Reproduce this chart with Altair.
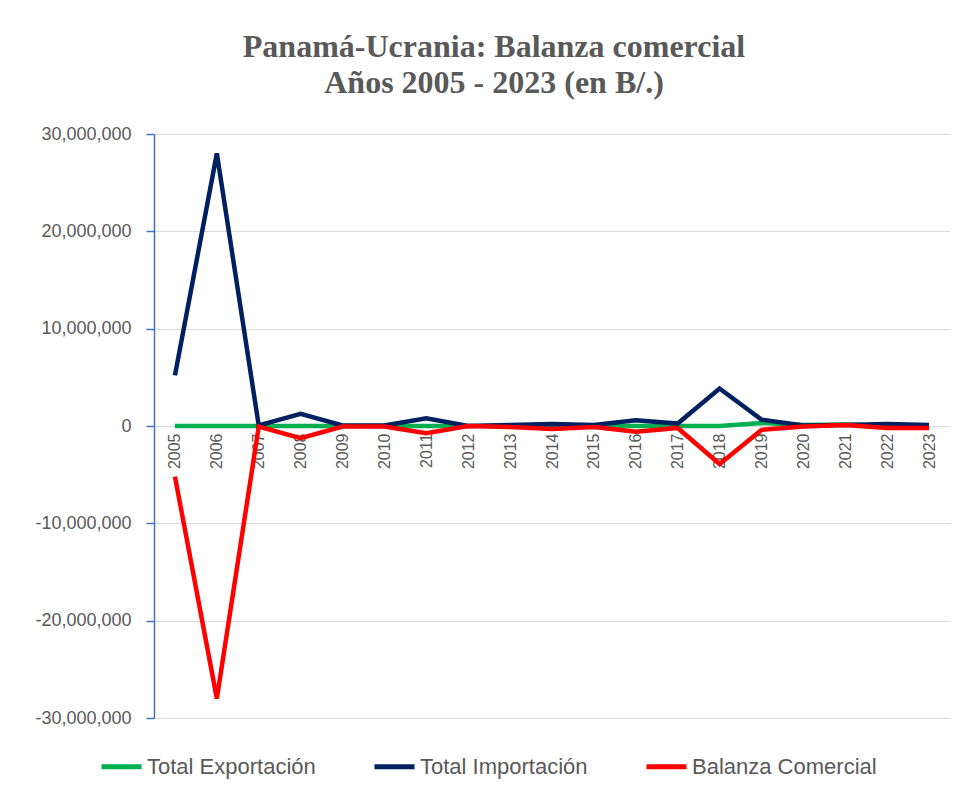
import altair as alt
import pandas as pd

years = [str(y) for y in range(2005, 2024)]
exportacion = [0, 0, 0, 0, 0, 0, 0, 0, 0, 0, 0, 0, 0, 0, 300000, 100000, 150000, 0, 0]
importacion = [5200000, 28000000, 50000, 1250000, 50000, 50000, 800000, 0, 100000, 200000, 100000, 600000, 250000, 3850000, 650000, 50000, 100000, 200000, 100000]
balanza = [-5200000, -28000000, -50000, -1250000, -50000, -50000, -750000, 0, -100000, -300000, -100000, -600000, -200000, -3900000, -400000, -50000, 100000, -200000, -200000]

series = ["Total Exportación", "Total Importación", "Balanza Comercial"]
colors = ["#00B050", "#002060", "#FF0000"]
y_ticks = [-30000000, -20000000, -10000000, 0, 10000000, 20000000, 30000000]

rows = []
for name, vals in zip(series, [exportacion, importacion, balanza]):
    for y, v in zip(years, vals):
        rows.append({"Año": y, "Serie": name, "Valor": v})
df = pd.DataFrame(rows)

H = 584
W = 796

chart = alt.Chart(df).mark_line(strokeWidth=4.5, strokeJoin="miter").encode(
    x=alt.X("Año:O", sort=years, title=None,
            scale=alt.Scale(type="point", padding=0.5),
            axis=alt.Axis(orient="bottom", offset=-H / 2, domain=False, ticks=False,
                          labelAngle=270, labelAlign="right", labelBaseline="middle",
                          labelPadding=7, labelFont="Liberation Sans", labelFontSize=16,
                          labelColor="#595959", grid=False)),
    y=alt.Y("Valor:Q", title=None,
            scale=alt.Scale(domain=[-30000000, 30000000], nice=False),
            axis=alt.Axis(values=y_ticks,
                          labelExpr="replace(format(datum.value, ','), '\u2212', '-')",
                          domainColor="#4472C4", domainWidth=1.5,
                          tickColor="#4472C4", tickSize=8, tickWidth=1.5,
                          labelPadding=15, labelFont="Liberation Sans", labelFontSize=18,
                          labelColor="#595959", gridColor="#D9D9D9", gridWidth=1)),
    color=alt.Color("Serie:N", sort=series,
                    scale=alt.Scale(domain=series, range=colors),
                    legend=alt.Legend(orient="none", legendX=-55, legendY=610,
                                      direction="horizontal", title=None,
                                      symbolType="stroke", symbolStrokeWidth=5, symbolSize=1600,
                                      labelFont="Liberation Sans", labelFontSize=22,
                                      labelColor="#595959", columnPadding=48, labelOffset=3,
                                      padding=0, labelLimit=300)),
    order=alt.Order("Serie:N"),
).properties(
    width=W,
    height=H,
    title=alt.Title(["Panamá-Ucrania: Balanza comercial", "Años 2005 - 2023 (en B/.)"],
                    font="Liberation Serif", fontSize=32, fontWeight="bold",
                    color="#595959", anchor="middle", lineHeight=36, offset=25, dx=-58),
    padding={"left": 26, "top": 23, "right": 5, "bottom": 5},
).configure_view(stroke=None)

chart.save("out.html", embed_options={"renderer": "svg", "actions": False})
